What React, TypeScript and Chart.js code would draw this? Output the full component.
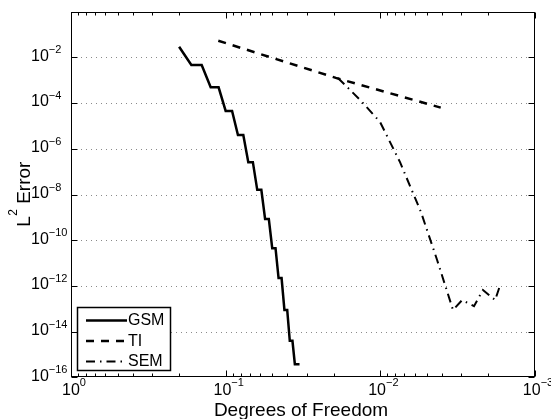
import React, { useEffect, useRef } from "react";
import { Chart, registerables } from "chart.js";
Chart.register(...registerables);

// ---- data ----
const gsmDof = [0.2, 0.1667, 0.1429, 0.125, 0.1111, 0.1, 0.0909, 0.0833, 0.0769, 0.0714, 0.0667, 0.0625, 0.0588, 0.0556, 0.0526, 0.05, 0.0476, 0.0455, 0.0435, 0.0417, 0.04, 0.0385, 0.037, 0.0357, 0.0333];
const gsmErr = [2.9e-2, 4.6e-3, 4.6e-3, 4.9e-4, 4.9e-4, 4.5e-5, 4.5e-5, 4.0e-6, 4.0e-6, 2.6e-7, 2.6e-7, 1.6e-8, 1.6e-8, 8.5e-10, 8.5e-10, 4.5e-11, 4.5e-11, 2.2e-12, 2.2e-12, 8.9e-14, 8.9e-14, 4.0e-15, 4.0e-15, 3.8e-16, 3.8e-16];
const tiDof = [0.1116, 0.0194, 0.00407];
const tiErr = [5.3e-2, 1.26e-3, 6.3e-5];
const semDof = [0.0188, 0.0135, 0.01005, 0.00746, 0.00546, 0.0043, 0.00339, 0.00296, 0.00248, 0.00217, 0.00181, 0.00168];
const semErr = [1.25e-3, 1.36e-4, 1.5e-5, 2.6e-7, 1.7e-9, 1.4e-11, 8.9e-14, 2.4e-13, 1.3e-13, 6.7e-13, 2.4e-13, 1.1e-12];
const seriesLabels = ["GSM", "TI", "SEM"];
const xTickExps = [0, -1, -2, -3];
const yTickExps = [-2, -4, -6, -8, -10, -12, -14, -16];
const yMajorExps = [0, -2, -4, -6, -8, -10, -12, -14, -16];
const yGridExps = [-2, -4, -6, -8, -10, -12, -14];
const xMinorMult = [2, 3, 4, 5, 6, 7, 8, 9];
const xTitle = "Degrees of Freedom";
const yTitleMain = "L";
const yTitleSup = "2";
const yTitleRest = " Error";

const FONT = '"Liberation Sans", Arial, Helvetica, sans-serif';

const expText = (e: number) => (e < 0 ? "\u2212" + Math.abs(e) : String(e));

const decorPlugin = {
  id: "matlabDecor",
  beforeDatasetsDraw(chart: any) {
    const { ctx, chartArea: a, scales } = chart;
    ctx.save();
    ctx.strokeStyle = "#8a8a8a";
    ctx.lineWidth = 1;
    ctx.setLineDash([1, 4]);
    for (const e of yGridExps) {
      const y = Math.round(scales.y.getPixelForValue(Math.pow(10, e))) + 0.5;
      ctx.beginPath();
      ctx.moveTo(a.left, y);
      ctx.lineTo(a.right, y);
      ctx.stroke();
    }
    ctx.restore();
  },
  afterDatasetsDraw(chart: any) {
    const { ctx, chartArea: a, scales } = chart;
    const xs = scales.x, ys = scales.y;
    ctx.save();
    ctx.setLineDash([]);
    ctx.strokeStyle = "#000";
    ctx.lineWidth = 1;
    const L = Math.round(a.left) + 0.5, R = Math.round(a.right) - 0.5;
    const T = Math.round(a.top) + 0.5, B = Math.round(a.bottom) - 0.5;
    ctx.strokeRect(L, T, R - L, B - T);
    // x ticks
    ctx.beginPath();
    for (let d = 0; d >= -3; d--) {
      const xm = Math.round(xs.getPixelForValue(Math.pow(10, d))) + 0.5;
      ctx.moveTo(xm, B); ctx.lineTo(xm, B - 6);
      ctx.moveTo(xm, T); ctx.lineTo(xm, T + 6);
      if (d > -3) {
        for (const m of xMinorMult) {
          const v = m * Math.pow(10, d - 1);
          const xp = Math.round(xs.getPixelForValue(v)) + 0.5;
          ctx.moveTo(xp, B); ctx.lineTo(xp, B - 3);
          ctx.moveTo(xp, T); ctx.lineTo(xp, T + 3);
        }
      }
    }
    // y ticks
    for (const e of yMajorExps) {
      const y = Math.round(ys.getPixelForValue(Math.pow(10, e))) + 0.5;
      ctx.moveTo(L, y); ctx.lineTo(L + 6, y);
      ctx.moveTo(R, y); ctx.lineTo(R - 6, y);
    }
    ctx.stroke();

    // tick labels
    ctx.fillStyle = "#000";
    const baseFont = `16px ${FONT}`;
    const supFont = `11px ${FONT}`;
    ctx.textBaseline = "middle";
    ctx.textAlign = "left";
    for (const e of yTickExps) {
      const y = ys.getPixelForValue(Math.pow(10, e));
      ctx.font = baseFont;
      const w = ctx.measureText("10").width;
      ctx.fillText("10", 31, y - 1);
      ctx.font = supFont;
      ctx.fillText(expText(e), 31 + w, y - 7);
    }
    for (const e of xTickExps) {
      const x = xs.getPixelForValue(Math.pow(10, e));
      ctx.font = baseFont;
      const w1 = ctx.measureText("10").width;
      ctx.font = supFont;
      const w2 = ctx.measureText(expText(e)).width;
      const start = x + 3 - (w1 + w2) / 2;
      ctx.font = baseFont;
      ctx.fillText("10", start, 391);
      ctx.font = supFont;
      ctx.fillText(expText(e), start + w1, 383);
    }

    // axis titles
    ctx.font = `19px ${FONT}`;
    ctx.textBaseline = "alphabetic";
    ctx.textAlign = "center";
    ctx.fillText(xTitle, (a.left + a.right) / 2 - 2, 416);

    ctx.save();
    ctx.translate(30, (a.top + a.bottom) / 2);
    ctx.rotate(-Math.PI / 2);
    ctx.textAlign = "left";
    ctx.font = `19px ${FONT}`;
    const wL = ctx.measureText(yTitleMain).width;
    const wR = ctx.measureText(yTitleRest).width;
    ctx.font = `12px ${FONT}`;
    const wS = ctx.measureText(yTitleSup).width;
    let sx = -(wL + wS + wR) / 2;
    ctx.font = `19px ${FONT}`;
    ctx.fillText(yTitleMain, sx, 0);
    ctx.font = `12px ${FONT}`;
    ctx.fillText(yTitleSup, sx + wL + 0.5, -13);
    ctx.font = `19px ${FONT}`;
    ctx.fillText(yTitleRest, sx + wL + wS + 0.5, 0);
    ctx.restore();

    // legend
    const bx = 77.5, by = 307.5, bw = 93, bh = 63;
    ctx.fillStyle = "#fff";
    ctx.fillRect(bx, by, bw, bh);
    ctx.strokeStyle = "#000";
    ctx.lineWidth = 1.5;
    ctx.strokeRect(bx, by, bw, bh);
    const rows = [320.5, 341, 361.5];
    chart.data.datasets.forEach((ds: any, i: number) => {
      const y = rows[i];
      ctx.save();
      ctx.strokeStyle = "#000";
      ctx.lineWidth = ds.borderWidth;
      ctx.setLineDash(ds.borderDash || []);
      ctx.beginPath();
      ctx.moveTo(86, y);
      ctx.lineTo(127, y);
      ctx.stroke();
      ctx.restore();
      ctx.fillStyle = "#000";
      ctx.font = `16px ${FONT}`;
      ctx.textAlign = "left";
      ctx.textBaseline = "middle";
      ctx.fillText(ds.label, 128, y + 0.5);
    });
    ctx.restore();
  },
};

const toPts = (xs: number[], ys: number[]) => xs.map((x, i) => ({ x, y: ys[i] }));

export default function App() {
  const ref = useRef<HTMLCanvasElement>(null);
  useEffect(() => {
    document.body.style.margin = "0";
    const chart = new Chart(ref.current as HTMLCanvasElement, {
      type: "line",
      data: {
        datasets: [
          { label: seriesLabels[0], data: toPts(gsmDof, gsmErr), borderColor: "#000", borderWidth: 2.5, borderDash: [], pointRadius: 0, fill: false, tension: 0 },
          { label: seriesLabels[1], data: toPts(tiDof, tiErr), borderColor: "#000", borderWidth: 2.5, borderDash: [8, 7], pointRadius: 0, fill: false, tension: 0 },
          { label: seriesLabels[2], data: toPts(semDof, semErr), borderColor: "#000", borderWidth: 2, borderDash: [9, 5, 1.5, 5], pointRadius: 0, fill: false, tension: 0 },
        ] as any,
      },
      options: {
        responsive: false,
        animation: false,
        events: [],
        layout: { padding: { left: 71, right: 16, top: 11.6, bottom: 41.6 } },
        scales: {
          x: { type: "logarithmic", reverse: true, min: 1e-3, max: 1, display: false },
          y: { type: "logarithmic", min: 1e-16, max: 1, display: false },
        },
        plugins: { legend: { display: false }, tooltip: { enabled: false } },
      } as any,
      plugins: [decorPlugin],
    });
    return () => chart.destroy();
  }, []);
  return <canvas ref={ref} width={551} height={419} style={{ display: "block", width: 551, height: 419 }} />;
}
